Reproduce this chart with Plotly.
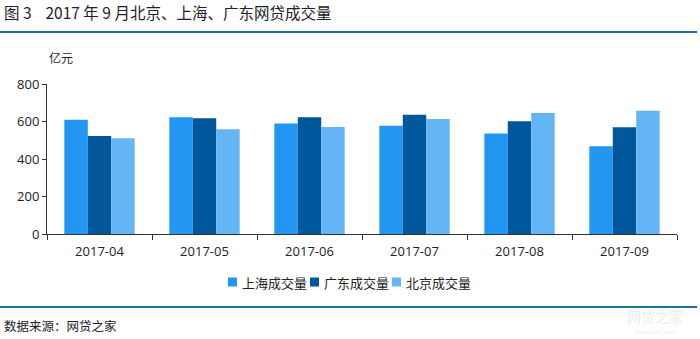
import plotly.graph_objects as go

months = ["2017-04", "2017-05", "2017-06", "2017-07", "2017-08", "2017-09"]
shanghai = [609, 623, 589, 577, 536, 468]
guangdong = [523, 618, 623, 636, 602, 570]
beijing = [511, 559, 571, 613, 646, 657]
series_names = ["上海成交量", "广东成交量", "北京成交量"]
colors = ["#2196F3", "#01579B", "#64B5F6"]

W, H = 700, 339
L, R, T, B = 47, 23, 84, 105
PW, PH = W - L - R, H - T - B

def px(x):
    return (x - L) / PW

def py(y):
    return (H - B - y) / PH

CJK = "Noto Sans CJK SC, Open Sans, sans-serif"
NUM = "Open Sans, Noto Sans CJK SC, sans-serif"

fig = go.Figure()
for name, vals, c in zip(series_names, [shanghai, guangdong, beijing], colors):
    fig.add_trace(go.Bar(x=months, y=vals, name=name, marker=dict(color=c, line=dict(width=0)),
                         showlegend=False))

fig.update_layout(
    width=W, height=H,
    margin=dict(l=L, r=R, t=T, b=B),
    paper_bgcolor="white", plot_bgcolor="white",
    barmode="group", bargap=0.33, bargroupgap=0,
    showlegend=False,
    xaxis=dict(type="category", showline=True, linecolor="#333", linewidth=1, ticks="outside",
               ticklen=5, tickcolor="#333", tickson="boundaries", showgrid=False,
               ticklabelstandoff=5,
               tickfont=dict(family=NUM, size=13, color="#222")),
    yaxis=dict(range=[0, 800], dtick=200, showline=True, linecolor="#333", linewidth=1,
               ticks="outside", ticklen=4, tickcolor="#333", showgrid=False, zeroline=False,
               tickfont=dict(family=NUM, size=13, color="#222")),
    font=dict(family=CJK),
)

shapes = [
    dict(type="line", xref="paper", yref="paper", x0=px(0), x1=px(697), y0=py(32), y1=py(32),
         line=dict(color="#1F6FA5", width=2)),
    dict(type="line", xref="paper", yref="paper", x0=px(0), x1=px(697), y0=py(307), y1=py(307),
         line=dict(color="#1F6FA5", width=2)),
]

annotations = [
    dict(text="图 3    2017 年 9 月北京、上海、广东网贷成交量", xref="paper", yref="paper",
         x=px(2), y=py(12), xanchor="left", yanchor="middle", showarrow=False,
         font=dict(family=CJK, size=15.5, color="#222")),
    dict(text="亿元", xref="paper", yref="paper", x=px(47), y=py(57), xanchor="left",
         yanchor="middle", showarrow=False, font=dict(family=CJK, size=12, color="#222")),
    dict(text="数据来源：网贷之家", xref="paper", yref="paper", x=px(2), y=py(325),
         xanchor="left", yanchor="middle", showarrow=False,
         font=dict(family=CJK, size=12.5, color="#222")),
    dict(text="网贷之家", xref="paper", yref="paper", x=px(655), y=py(316), xanchor="center",
         yanchor="middle", showarrow=False, font=dict(family=CJK, size=14, color="#ececec")),
    dict(text="www.wdzj.com", xref="paper", yref="paper", x=px(655), y=py(332), xanchor="center",
         yanchor="middle", showarrow=False, font=dict(family=NUM, size=6, color="#ececec")),
]

# manual compact legend
leg_y = 282
leg_x0 = 228
step = 82
for i, (name, c) in enumerate(zip(series_names, colors)):
    sx = leg_x0 + i * step
    shapes.append(dict(type="rect", xref="paper", yref="paper",
                       x0=px(sx), x1=px(sx + 9), y0=py(leg_y + 4.5), y1=py(leg_y - 4.5),
                       fillcolor=c, line=dict(width=0)))
    annotations.append(dict(text=name, xref="paper", yref="paper", x=px(sx + 12), y=py(leg_y),
                            xanchor="left", yanchor="middle", showarrow=False,
                            font=dict(family=CJK, size=13, color="#222")))

fig.update_layout(shapes=shapes, annotations=annotations)

fig.write_html("out.html")
